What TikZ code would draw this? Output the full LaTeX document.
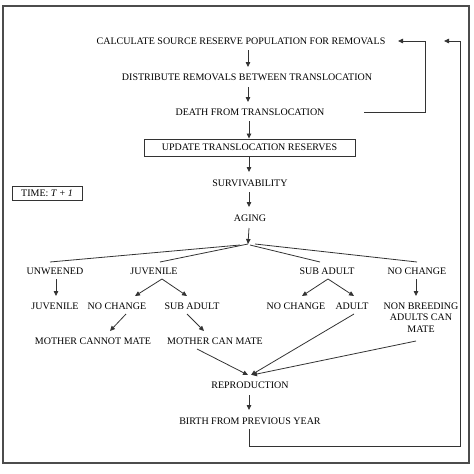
\documentclass[tikz,border=0pt]{standalone}
\usepackage{fontspec}
\setmainfont{Liberation Serif}
\usetikzlibrary{arrows.meta}
\begin{document}
\begin{tikzpicture}[x=1pt,y=-1pt,
  lbl/.style={inner xsep=0pt,inner ysep=0pt,text height=7pt,text depth=0pt,font=\fontsize{10}{11.5}\selectfont,text=black},
  boxed/.style={draw=black!80,line width=0.9pt,inner sep=0pt,font=\fontsize{10}{11.5}\selectfont,text=black},
  conn/.style={draw=black!80,line width=0.8pt},
  arr/.style={conn,-{Triangle[length=5pt,width=4.5pt]}}]
\useasboundingbox (0,0) rectangle (474,474);
\draw[draw=black!70,line width=1.1pt] (3,6) rectangle (469,463);
% main column
\node[lbl] (calc) at (241,41) {CALCULATE SOURCE RESERVE POPULATION FOR REMOVALS};
\node[lbl] (dist) at (247,77) {DISTRIBUTE REMOVALS BETWEEN TRANSLOCATION};
\node[lbl] (death) at (250,112) {DEATH FROM TRANSLOCATION};
\node[boxed,minimum width=211pt,minimum height=17pt] (upd) at (249.5,147.5) {UPDATE TRANSLOCATION RESERVES};
\node[lbl] (surv) at (250,183) {SURVIVABILITY};
\node[lbl] (aging) at (250,218) {AGING};
\node[boxed,minimum width=70pt,minimum height=14pt] (time) at (47,193) {TIME: \textit{T} + \textit{1}};
% level 2
\node[lbl] (unw) at (55,271) {UNWEENED};
\node[lbl] (juvA) at (154,271) {JUVENILE};
\node[lbl] (subA) at (327,271) {SUB ADULT};
\node[lbl] (ncA) at (417,271) {NO CHANGE};
% level 3
\node[lbl] (juvB) at (55,306) {JUVENILE};
\node[lbl] (nc1) at (117,306) {NO CHANGE};
\node[lbl] (sub1) at (192,306) {SUB ADULT};
\node[lbl] (nc2) at (296,306) {NO CHANGE};
\node[lbl] (adult) at (352,306) {ADULT};
\node[lbl,anchor=north,align=center,text height=,font=\fontsize{10}{11.5}\selectfont] (nb) at (421,302.5) {NON BREEDING\\ADULTS CAN\\MATE};
% level 4
\node[lbl] (mcn) at (93,341) {MOTHER CANNOT MATE};
\node[lbl] (mcm) at (215,341) {MOTHER CAN MATE};
\node[lbl] (repro) at (250,385) {REPRODUCTION};
\node[lbl] (birth) at (250,421) {BIRTH FROM PREVIOUS YEAR};
% coordinates
\coordinate (apex) at (248,244);
\coordinate (fbs) at (364,112);
\coordinate (fbe) at (398,41);
\coordinate (lpe) at (444,41);
% vertical arrows
\draw[arr] (248,50) -- (248,67);
\draw[arr] (248,87) -- (248,102);
\draw[arr] (249,121) -- (upd.north -| 249,0);
\draw[arr] (upd.south -| 249,0) -- (249,172);
\draw[arr] (249,192) -- (249,207);
\draw[arr] (249,228) -- (apex);
\draw[arr] (249,395) -- (249,410);
% branches
\draw[conn] (240,245) -- (50,262);
\draw[conn] (apex) -- (160,262);
\draw[conn] (250,245) -- (320,262);
\draw[conn] (255,244) -- (417,262);
% level 2 -> 3
\draw[arr] (56,279) -- (56,296);
\draw[arr] (162,279) -- (135,296);
\draw[arr] (162,279) -- (187,296);
\draw[arr] (328,279) -- (302,296);
\draw[arr] (328,279) -- (354,296);
\draw[arr] (416,279) -- (416,296);
% level 3 -> 4
\draw[arr] (126,314) -- (110,331);
\draw[arr] (187,314) -- (204,331);
% to reproduction
\draw[arr] (197,349) -- (248,375);
\draw[arr] (354,314) -- (251,375);
\draw[arr] (416,341) -- (252,375);
% feedback loops
\draw[arr] (fbs) -- (425,112) -- (425,41) -- (fbe);
\draw[arr] (249,429) -- (249,446) -- (460,446) -- (460,41) -- (lpe);
\end{tikzpicture}
\end{document}
